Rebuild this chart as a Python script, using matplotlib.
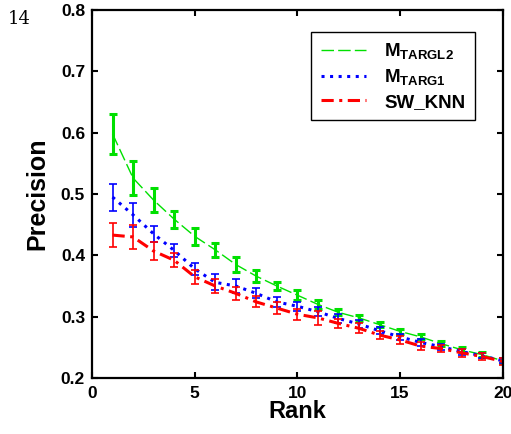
import matplotlib
matplotlib.use('Agg')
import matplotlib.pyplot as plt
import numpy as np

plt.rcParams['font.family'] = ['Liberation Sans', 'DejaVu Sans']
plt.rcParams['font.weight'] = 'bold'
plt.rcParams['mathtext.fontset'] = 'custom'
plt.rcParams['mathtext.rm'] = 'Liberation Sans:bold'
plt.rcParams['mathtext.bf'] = 'Liberation Sans:bold'

rank = np.arange(1, 21)

# precision at each rank and half-width of error bars
targl2 = [0.598, 0.526, 0.490, 0.459, 0.431, 0.409, 0.385, 0.366, 0.350, 0.335,
          0.320, 0.307, 0.298, 0.287, 0.276, 0.267, 0.256, 0.246, 0.238, 0.228]
targl2_err = [0.032, 0.028, 0.020, 0.014, 0.014, 0.011, 0.012, 0.010, 0.007, 0.008,
              0.007, 0.005, 0.005, 0.004, 0.004, 0.004, 0.004, 0.004, 0.004, 0.004]

targ1 = [0.495, 0.466, 0.435, 0.408, 0.378, 0.356, 0.350, 0.338, 0.324, 0.317,
         0.308, 0.297, 0.288, 0.277, 0.267, 0.258, 0.251, 0.243, 0.236, 0.228]
targ1_err = [0.022, 0.019, 0.013, 0.010, 0.010, 0.013, 0.011, 0.008, 0.008, 0.007,
             0.007, 0.007, 0.006, 0.006, 0.005, 0.006, 0.005, 0.005, 0.004, 0.004]

swknn = [0.433, 0.430, 0.407, 0.392, 0.365, 0.350, 0.338, 0.324, 0.314, 0.304,
         0.298, 0.289, 0.281, 0.270, 0.262, 0.252, 0.248, 0.241, 0.235, 0.227]
swknn_err = [0.020, 0.019, 0.015, 0.011, 0.011, 0.011, 0.011, 0.009, 0.010, 0.009,
             0.011, 0.008, 0.008, 0.006, 0.006, 0.007, 0.006, 0.006, 0.005, 0.005]

fig = plt.figure(figsize=(5.11, 4.34), dpi=100)
ax = fig.add_axes([0.180, 0.129, 0.804, 0.848])

g = '#00e000'
b = '#0000ff'
r = '#ff0000'

ax.errorbar(rank, targl2, yerr=targl2_err, fmt='none', ecolor=g, elinewidth=2.2,
            capsize=2.6, capthick=2.2)
lg, = ax.plot(rank, targl2, color=g, lw=1.0, dashes=(9, 3))
ax.errorbar(rank, targ1, yerr=targ1_err, fmt='none', ecolor=b, elinewidth=1.2,
            capsize=2.6, capthick=1.2)
lb, = ax.plot(rank, targ1, color=b, lw=2.2, ls=(0, (1, 1.8)))
ax.errorbar(rank, swknn, yerr=swknn_err, fmt='none', ecolor=r, elinewidth=1.2,
            capsize=2.6, capthick=1.2)
lr, = ax.plot(rank, swknn, color=r, lw=2.2, ls=(0, (4, 1.8, 1, 1.8)))

ax.set_xlim(0, 20)
ax.set_ylim(0.2, 0.8)
ax.set_xticks([0, 5, 10, 15, 20])
ax.set_yticks([0.2, 0.3, 0.4, 0.5, 0.6, 0.7, 0.8])
ax.set_yticklabels(['0.2', '0.3', '0.4', '0.5', '0.6', '0.7', '0.8'])
ax.tick_params(direction='in', length=4, width=1.5, labelsize=12.5, right=True, top=True)
ax.tick_params(axis='x', pad=6)
ax.tick_params(axis='y', pad=5)
for s in ax.spines.values():
    s.set_linewidth(1.6)
ax.set_xlabel('Rank', fontsize=17, fontweight='bold', labelpad=-1)
ax.set_ylabel('Precision', fontsize=18, fontweight='bold', labelpad=8)

# legend shows only the line styles
leg = ax.legend([lg, lb, lr],
                [r'$\mathrm{M}_{\mathrm{TARGL2}}$', r'$\mathrm{M}_{\mathrm{TARG1}}$', 'SW_KNN'],
                loc='upper right', bbox_to_anchor=(0.955, 0.965), fontsize=13.5,
                fancybox=False, edgecolor='black', framealpha=1,
                handlelength=2.4, handletextpad=1.0, borderpad=0.5, labelspacing=0.3)
leg.get_frame().set_linewidth(1.0)

fig.text(0.015, 0.945, '14', fontsize=13, family='DejaVu Serif', fontweight='normal')

fig.savefig('out.png', dpi=100)
